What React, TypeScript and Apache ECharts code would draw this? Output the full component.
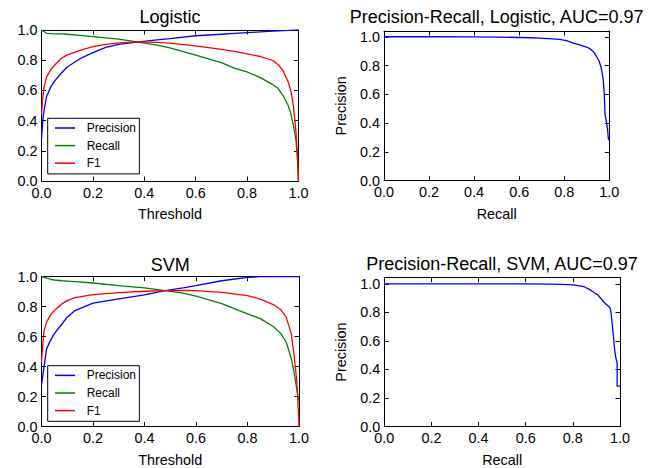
import React, { useEffect, useRef } from "react";
import * as echarts from "echarts";

const FONT = '"Liberation Sans", Arial, Helvetica, sans-serif';

// ---------- Data ----------
const titles = ["Logistic", "Precision-Recall, Logistic, AUC=0.97", "SVM", "Precision-Recall, SVM, AUC=0.97"];
const seriesNames = ["Precision", "Recall", "F1"];
const seriesColors = ["#0000ff", "#008000", "#ff0000"];
const tickValues = [0, 0.2, 0.4, 0.6, 0.8, 1.0];

// Logistic: metrics vs threshold
const logThreshold = [0, 0.005, 0.01, 0.02, 0.035, 0.05, 0.075, 0.1, 0.15, 0.2, 0.25, 0.3, 0.37, 0.45, 0.5, 0.6, 0.7, 0.75, 0.8, 0.85, 0.9, 0.92, 0.94, 0.96, 0.97, 0.98, 0.99, 0.995, 1.0];
const logPrecision = [0.28, 0.4, 0.47, 0.56, 0.62, 0.66, 0.71, 0.755, 0.81, 0.85, 0.885, 0.905, 0.92, 0.935, 0.943, 0.962, 0.972, 0.977, 0.982, 0.987, 0.992, 0.994, 0.996, 0.997, 0.998, 0.999, 1.0, 1.0, 1.0];
const logRecall = [1.0, 0.995, 0.99, 0.978, 0.976, 0.975, 0.974, 0.972, 0.964, 0.956, 0.948, 0.94, 0.922, 0.9, 0.882, 0.834, 0.784, 0.748, 0.722, 0.686, 0.638, 0.614, 0.565, 0.5, 0.448, 0.37, 0.27, 0.17, 0.0];
const logF1 = [0.44, 0.55, 0.62, 0.69, 0.735, 0.765, 0.81, 0.835, 0.865, 0.89, 0.905, 0.915, 0.921, 0.918, 0.913, 0.895, 0.872, 0.858, 0.842, 0.825, 0.798, 0.772, 0.73, 0.655, 0.6, 0.5, 0.33, 0.2, 0.0];

// SVM: metrics vs threshold
const svmThreshold = [0, 0.005, 0.01, 0.02, 0.035, 0.05, 0.08, 0.1, 0.13, 0.2, 0.3, 0.4, 0.48, 0.55, 0.6, 0.7, 0.8, 0.85, 0.9, 0.93, 0.95, 0.97, 0.98, 0.99, 0.995, 1.0];
const svmPrecision = [0.277, 0.34, 0.4, 0.52, 0.575, 0.62, 0.686, 0.73, 0.774, 0.823, 0.852, 0.878, 0.907, 0.925, 0.94, 0.973, 0.996, 1.0, 1.0, 1.0, 1.0, 1.0, 1.0, 1.0, 1.0, 1.0];
const svmRecall = [1.0, 0.998, 0.995, 0.99, 0.983, 0.978, 0.973, 0.971, 0.967, 0.958, 0.94, 0.925, 0.907, 0.89, 0.87, 0.82, 0.752, 0.72, 0.668, 0.62, 0.564, 0.454, 0.37, 0.265, 0.21, 0.17];
const svmF1 = [0.43, 0.55, 0.64, 0.697, 0.745, 0.774, 0.82, 0.84, 0.86, 0.88, 0.894, 0.903, 0.907, 0.908, 0.907, 0.896, 0.874, 0.85, 0.814, 0.779, 0.73, 0.62, 0.487, 0.33, 0.2, 0.0];

// Precision-Recall curves
const prLogRecall = [0, 0.2, 0.4, 0.5, 0.6, 0.65, 0.69, 0.73, 0.78, 0.81, 0.84, 0.865, 0.885, 0.905, 0.922, 0.935, 0.944, 0.955, 0.963, 0.968, 0.973, 0.977, 0.979, 0.981, 0.985, 0.988, 0.992, 0.996, 1.0];
const prLogPrecision = [1.0, 1.0, 0.999, 0.998, 0.995, 0.993, 0.99, 0.987, 0.982, 0.973, 0.956, 0.945, 0.935, 0.925, 0.907, 0.885, 0.861, 0.83, 0.79, 0.75, 0.7, 0.62, 0.55, 0.46, 0.43, 0.4, 0.36, 0.29, 0.28];
const prSvmRecall = [0, 0.2, 0.4, 0.6, 0.7, 0.75, 0.8, 0.83, 0.85, 0.87, 0.89, 0.905, 0.918, 0.929, 0.94, 0.95, 0.958, 0.962, 0.965, 0.968, 0.972, 0.976, 0.979, 0.984, 0.988, 0.988, 1.0];
const prSvmPrecision = [1.0, 1.0, 1.0, 1.0, 0.999, 0.997, 0.993, 0.987, 0.979, 0.962, 0.94, 0.925, 0.9, 0.877, 0.86, 0.845, 0.831, 0.8, 0.75, 0.7, 0.633, 0.56, 0.516, 0.47, 0.446, 0.283, 0.283];

const zip = (xs: number[], ys: number[]) => xs.map((x, i) => [x, ys[i]]);

const tickFmt = (v: number) =>
  tickValues.some((t) => Math.abs(t - v) < 1e-6) ? v.toFixed(1) : "";

export default function App() {
  const ref = useRef<HTMLDivElement>(null);

  useEffect(() => {
    document.body.style.margin = "0";
    if (!ref.current) return;
    const chart = echarts.init(ref.current, undefined, { renderer: "svg" });

    const grids = [
      { left: 41.5, top: 30, width: 257, height: 151 },
      { left: 384, top: 31, width: 225.3, height: 149.7 },
      { left: 41.5, top: 276.7, width: 257.5, height: 150.6 },
      { left: 384.3, top: 277.7, width: 235.7, height: 149.6 },
    ];
    const yMaxes = [1, 1.04, 1, 1.044];
    const xNames = ["Threshold", "Recall", "Threshold", "Recall"];
    const yNames = ["", "Precision", "", "Precision"];
    const titlePos = [
      { x: 170, y: 7.5 },
      { x: 496.6, y: 7.5 },
      { x: 170.2, y: 255.5 },
      { x: 502, y: 254.5 },
    ];

    const axisBase = (gi: number, max: number, labels: boolean) => ({
      type: "value",
      gridIndex: gi,
      min: 0,
      max,
      interval: 0.2,
      axisLine: { show: true, onZero: false, lineStyle: { color: "#000", width: 1 } },
      axisTick: { show: true, inside: true, length: 4.5, lineStyle: { color: "#000", width: 1 } },
      splitLine: { show: false },
      axisLabel: {
        show: labels,
        fontSize: 14.4,
        color: "#000",
        fontFamily: FONT,
        formatter: tickFmt,
      },
    });

    const xAxis: any[] = [];
    const yAxis: any[] = [];
    grids.forEach((_, gi) => {
      const bx: any = axisBase(gi, 1, true);
      bx.position = "bottom";
      bx.axisLabel.margin = 4.6;
      bx.name = xNames[gi];
      bx.nameLocation = "middle";
      bx.nameGap = gi >= 2 ? 26.5 : 25.8;
      bx.nameTextStyle = { fontSize: 14.4, color: "#000", fontFamily: FONT };
      xAxis.push(bx);
      const tx: any = axisBase(gi, 1, false);
      tx.position = "top";
      xAxis.push(tx);

      const ly: any = axisBase(gi, yMaxes[gi], true);
      ly.position = "left";
      ly.axisLabel.margin = 4;
      if (yNames[gi]) {
        ly.name = yNames[gi];
        ly.nameLocation = "middle";
        ly.nameGap = 36;
        ly.nameTextStyle = { fontSize: 14.4, color: "#000", fontFamily: FONT };
      }
      yAxis.push(ly);
      const ry: any = axisBase(gi, yMaxes[gi], false);
      ry.position = "right";
      yAxis.push(ry);
    });

    const lineSeries = (name: string, color: string, gi: number, data: number[][]) => ({
      type: "line",
      name,
      xAxisIndex: gi * 2,
      yAxisIndex: gi * 2,
      data,
      showSymbol: false,
      symbol: "none",
      lineStyle: { color, width: 1.3 },
      itemStyle: { color },
      silent: true,
    });

    const series = [
      lineSeries(seriesNames[0], seriesColors[0], 0, zip(logThreshold, logPrecision)),
      lineSeries(seriesNames[1], seriesColors[1], 0, zip(logThreshold, logRecall)),
      lineSeries(seriesNames[2], seriesColors[2], 0, zip(logThreshold, logF1)),
      lineSeries("PR Logistic", seriesColors[0], 1, zip(prLogRecall, prLogPrecision)),
      lineSeries(seriesNames[0], seriesColors[0], 2, zip(svmThreshold, svmPrecision)),
      lineSeries(seriesNames[1], seriesColors[1], 2, zip(svmThreshold, svmRecall)),
      lineSeries(seriesNames[2], seriesColors[2], 2, zip(svmThreshold, svmF1)),
      lineSeries("PR SVM", seriesColors[0], 3, zip(prSvmRecall, prSvmPrecision)),
    ];

    const legendBase = (top: number) => ({
      data: seriesNames,
      orient: "vertical",
      left: 47.7,
      top,
      padding: [2.7, 3.3, 3.7, 7.3],
      itemGap: 3.6,
      itemWidth: 20,
      itemHeight: 1.5,
      icon: "rect",
      selectedMode: false,
      borderColor: "#000",
      borderWidth: 1,
      borderRadius: 0,
      backgroundColor: "#fff",
      textStyle: { fontSize: 12, fontFamily: FONT, color: "#000", lineHeight: 14, padding: [0, 0, 0, 6.7] },
    });

    chart.setOption({
      animation: false,
      backgroundColor: "#fff",
      title: titles.map((t, i) => ({
        text: t,
        left: titlePos[i].x,
        top: titlePos[i].y,
        textAlign: "center",
        padding: 0,
        textStyle: { fontSize: 18, fontWeight: "normal", color: "#000", fontFamily: FONT },
      })),
      grid: grids.map((g) => ({ ...g, containLabel: false })),
      xAxis,
      yAxis,
      legend: [legendBase(118.3), legendBase(365.7)],
      series,
    });

    return () => chart.dispose();
  }, []);

  return <div ref={ref} style={{ width: 659, height: 468 }} />;
}
